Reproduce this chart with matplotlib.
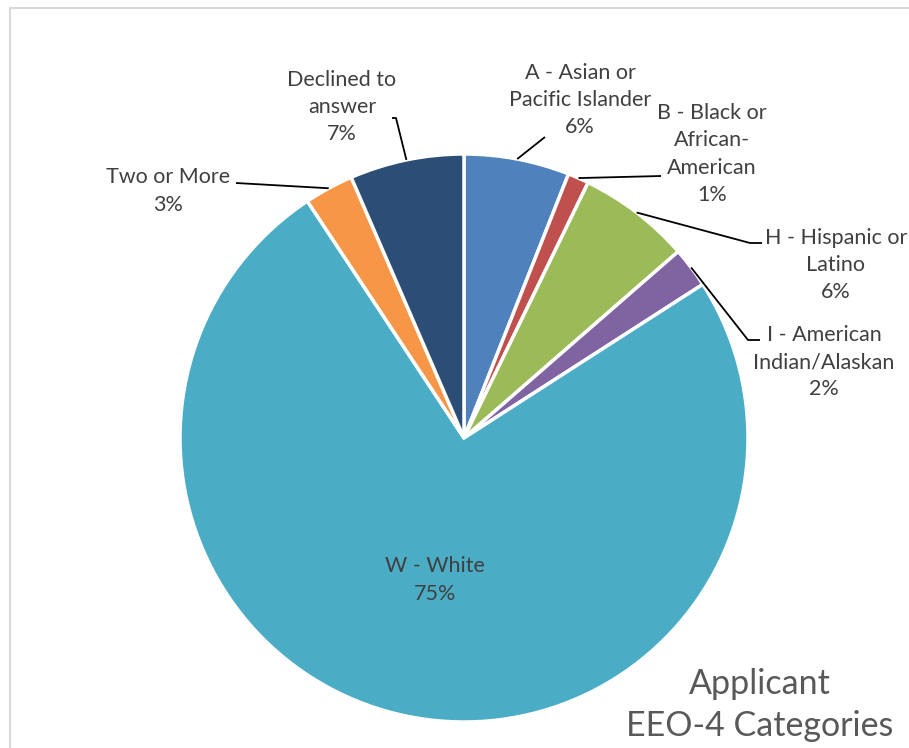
import numpy as np
import matplotlib.pyplot as plt

plt.rcParams['font.family'] = ['Lato', 'DejaVu Sans']

# data
categories = ['A - Asian or\nPacific Islander', 'B - Black or\nAfrican-\nAmerican',
              'H - Hispanic or\nLatino', 'I - American\nIndian/Alaskan',
              'W - White', 'Two or More', 'Declined to\nanswer']
values = [6.0, 1.2, 6.4, 2.3, 74.8, 2.8, 6.5]
pct_labels = ['6%', '1%', '6%', '2%', '75%', '3%', '7%']
colors = ['#4F81BD', '#C0504D', '#9BBB59', '#8064A2', '#4BACC6', '#F79646', '#2C4D75']

W, H = 909, 748
fig = plt.figure(figsize=(W / 100, H / 100), dpi=100)
ax = fig.add_axes([0, 0, 1, 1])

# chart border (light grey, runs off right/bottom)
ax.plot([10, 10, W + 5], [-5, H - 8, H - 8], color='#d9d9d9', lw=1.5)

cx, cy, r = 464, H - 438, 284
wedges, _ = ax.pie(values, colors=colors, startangle=90, counterclock=False,
                   center=(cx, cy), radius=r, frame=True,
                   wedgeprops=dict(edgecolor='white', linewidth=2.5))
ax.set_xlim(0, W)
ax.set_ylim(0, H)
ax.set_aspect('equal')
ax.axis('off')

# label placement (text centre, y measured from top) and leader end points
label_pos = [(580, 100), (712, 154), (836, 265), (824, 362), (435, 580), (168, 191), (342, 107)]
leader = [[(545, 137)], [(661, 176)], [(750, 243), (762, 243)], [(748, 340), (760, 340)],
          None, [(236, 183)], [(396, 118), (392, 118)]]

txt_col = '#404040'
for w, cat, pct, (lx, ly), ld in zip(wedges, categories, pct_labels, label_pos, leader):
    ax.text(lx, H - ly, cat + '\n' + pct, ha='center', va='center', fontsize=15.5,
            color=txt_col, linespacing=1.45)
    if ld is None:
        continue
    mid = np.deg2rad((w.theta1 + w.theta2) / 2)
    pts = [(cx + r * np.cos(mid), cy + r * np.sin(mid))] + [(x, H - y) for x, y in ld]
    xs, ys = zip(*pts)
    ax.plot(xs, ys, color='black', lw=1.3, solid_capstyle='butt')

ax.text(760, H - 705, 'Applicant\nEEO-4 Categories', ha='center', va='center',
        fontsize=24.5, color='#595959', linespacing=1.42)

fig.savefig('out.png', dpi=100)
